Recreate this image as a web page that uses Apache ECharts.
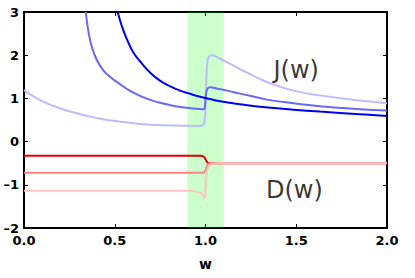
<!DOCTYPE html>
<html>
<head>
<meta charset="utf-8">
<script src="https://cdn.jsdelivr.net/npm/echarts@6/dist/echarts.min.js"></script>
<style>html,body{margin:0;padding:0;background:#fff}#c{width:415px;height:278px}</style>
</head>
<body>
<div id="c"></div>
<script>
const xTickLabels = ['0.0','0.5','1.0','1.5','2.0'];
const yTickLabels = ['–2','–1','0','1','2','3'];
const labelTexts = ['J(w)','D(w)'];
const labelW = [1.50, 1.49];
const labelV = [1.66, -1.12];
const bandRange = [0.9, 1.1];

const jDarkW = [0.516,0.54,0.566,0.60,0.639,0.694,0.749,0.80,0.86,0.92,0.97,1.03,1.08,1.19,1.30,1.484,1.63,1.85,2.0];
const jDarkV = [3.0,2.66,2.38,2.08,1.86,1.60,1.41,1.29,1.18,1.10,1.04,0.98,0.935,0.865,0.805,0.74,0.695,0.635,0.595];

const jMidW = [0.34,0.355,0.373,0.40,0.437,0.48,0.529,0.58,0.639,0.70,0.749,0.86,0.97,0.99,0.997,1.003,1.01,1.025,1.06,1.12,1.19,1.30,1.355,1.484,1.63,1.85,2.0];
const jMidV = [3.0,2.55,2.2,1.9,1.65,1.48,1.33,1.185,1.06,0.96,0.90,0.80,0.755,0.75,0.82,1.1,1.22,1.26,1.23,1.18,1.11,1.01,0.96,0.89,0.82,0.75,0.72];

const jLightW = [0,0.08,0.16,0.235,0.345,0.42,0.53,0.64,0.82,0.96,0.985,0.995,1.0,1.005,1.012,1.02,1.035,1.06,1.117,1.19,1.30,1.355,1.484,1.63,1.85,2.0];
const jLightV = [1.19,0.98,0.83,0.72,0.60,0.53,0.46,0.41,0.37,0.36,0.38,0.45,0.9,1.5,1.88,1.97,2.0,1.96,1.84,1.68,1.45,1.35,1.18,1.07,0.95,0.89];

const dDarkW = [0,0.975,0.99,1.0,1.01,1.02,1.05,2.0];
const dDarkV = [-0.33,-0.33,-0.35,-0.41,-0.48,-0.50,-0.50,-0.50];

const dMidW = [0,0.98,0.995,1.005,1.015,1.03,1.06,2.0];
const dMidV = [-0.72,-0.72,-0.70,-0.60,-0.52,-0.50,-0.50,-0.50];

const dLightW = [0,0.90,0.95,0.975,0.99,0.996,1.0,1.005,1.015,1.035,1.08,2.0];
const dLightV = [-1.14,-1.14,-1.16,-1.19,-1.27,-1.31,-1.1,-0.75,-0.58,-0.52,-0.50,-0.50];

const zip = (a, b) => a.map((v, i) => [v, b[i]]);
const FONT = 'DejaVu Sans';

function lineSeries(w, v, color, z) {
  return {
    type: 'line', data: zip(w, v), showSymbol: false, symbol: 'none',
    smooth: 0.45, z: z,
    lineStyle: { color: color, width: 2 },
    itemStyle: { color: color }
  };
}

const axisLine = { show: true, onZero: false, lineStyle: { color: '#000', width: 2 } };
const axisTick = { show: true, inside: true, length: 4, lineStyle: { color: '#000', width: 1 } };
const labelStyle = { fontFamily: FONT, fontWeight: 'bold', fontSize: 13, color: '#000' };

const chart = echarts.init(document.getElementById('c'), null, { renderer: 'svg' });
chart.setOption({
  animation: false,
  backgroundColor: '#fff',
  grid: { left: 24, right: 28, top: 12, bottom: 50, containLabel: false },
  xAxis: [
    { type: 'value', position: 'bottom', min: 0, max: 2, interval: 0.5,
      axisLine: axisLine, axisTick: axisTick, splitLine: { show: false },
      axisLabel: Object.assign({ margin: 6, formatter: v => xTickLabels[Math.round(v / 0.5)] }, labelStyle),
      name: 'w', nameLocation: 'middle', nameGap: 29,
      nameTextStyle: { fontFamily: FONT, fontWeight: 'bold', fontSize: 14, color: '#000' } },
    { type: 'value', position: 'top', min: 0, max: 2, interval: 0.5,
      axisLine: axisLine, axisTick: axisTick, splitLine: { show: false }, axisLabel: { show: false } }
  ],
  yAxis: [
    { type: 'value', position: 'left', min: -2, max: 3, interval: 1,
      axisLine: axisLine, axisTick: axisTick, splitLine: { show: false },
      axisLabel: Object.assign({ margin: 5, formatter: v => yTickLabels[Math.round(v + 2)] }, labelStyle) },
    { type: 'value', position: 'right', min: -2, max: 3, interval: 1,
      axisLine: axisLine, axisTick: axisTick, splitLine: { show: false }, axisLabel: { show: false } }
  ],
  series: [
    lineSeries(jLightW, jLightV, 'rgb(188,188,255)', 2),
    lineSeries(jMidW, jMidV, 'rgb(105,105,245)', 3),
    lineSeries(jDarkW, jDarkV, 'rgb(0,0,240)', 4),
    lineSeries(dDarkW, dDarkV, 'rgb(225,0,0)', 2),
    lineSeries(dMidW, dMidV, 'rgb(252,130,130)', 3),
    lineSeries(dLightW, dLightV, 'rgb(255,195,195)', 4),
    { type: 'line', data: [], z: 10,
      markArea: { silent: true, itemStyle: { color: 'rgba(0,255,0,0.2)', opacity: 1 },
        data: [[{ xAxis: bandRange[0] }, { xAxis: bandRange[1] }]] } },
    { type: 'scatter', symbolSize: 0, z: 11,
      data: labelTexts.map((t, i) => [labelW[i], labelV[i], t]),
      label: { show: true, position: 'inside', formatter: p => p.data[2],
        fontFamily: FONT, fontSize: 24, color: '#000' } }
  ]
});
</script>
</body>
</html>
